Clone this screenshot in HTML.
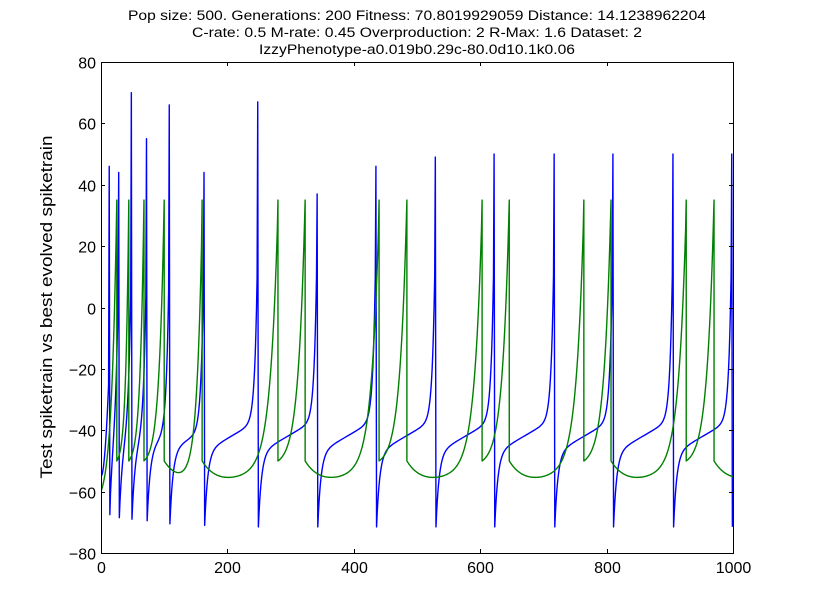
<!DOCTYPE html>
<html><head><meta charset="utf-8"><style>
html,body{margin:0;padding:0;background:#fff;}
svg{display:block;font-family:"Liberation Sans",sans-serif;}
</style></head><body>
<svg id="chart" width="815" height="615" viewBox="0 0 815 615">
<rect x="0" y="0" width="815" height="615" fill="#fff"/>
<g font-size="13.5" text-anchor="middle" fill="#000">
<text x="417" y="20" textLength="578" lengthAdjust="spacingAndGlyphs">Pop size: 500. Generations: 200 Fitness: 70.8019929059 Distance: 14.1238962204</text>
<text x="417" y="37" textLength="450" lengthAdjust="spacingAndGlyphs">C-rate: 0.5 M-rate: 0.45 Overproduction: 2 R-Max: 1.6 Dataset: 2</text>
<text x="417" y="54" textLength="316" lengthAdjust="spacingAndGlyphs">IzzyPhenotype-a0.019b0.29c-80.0d10.1k0.06</text>
</g>
<g id="plot"></g>
<g id="axes"></g>
<text x="52" y="307" font-size="17" text-anchor="middle" textLength="343" lengthAdjust="spacingAndGlyphs" transform="rotate(-90 52 307)">Test spiketrain vs best evolved spiketrain</text>
</svg>
<script>
const xTicks=[0,200,400,600,800,1000];
const yTicks=[-80,-60,-40,-20,0,20,40,60,80];
const blueSpikeTimes=[13,28,48,72,108,163,248,342,435,529,622,717,810,905,998];
const blueSpikePeaks=[46,44,70,55,66,44,67,37,46,49,50,50,50,50,50];
const blueResets=[-67.5,-68.5,-69,-69.5,-70.5,-71,-71.5,-71.5,-71.5,-71.5,-71.5,-71.5,-71.5,-71.5,-71.5];
const blueStart=-55;
const greenSpikeTimes=[25,44,68,100,160,280,323,440,484,603,646,764,807,926,970];
const greenSpikePeak=35;
const greenReset=-50;
const greenStart=-60;

const L=101,R=733,T=62,B=553;
const sx=v=>L+(v-0)/(1000-0)*(R-L);
const sy=v=>B-(v-(-80))/(160)*(B-T);
const NS="http://www.w3.org/2000/svg";
const plot=document.getElementById('plot');
const axes=document.getElementById('axes');

function bluePts(){
  const pts=[];
  let L0=blueSpikeTimes[0];
  for(let u=0;u<L0;u++){const f=u/L0;pts.push([u,blueStart+(-20-blueStart)*Math.pow(f,2)]);}
  for(let k=0;k<blueSpikeTimes.length;k++){
    const ts=blueSpikeTimes[k];
    pts.push([ts,blueSpikePeaks[k]]);
    const vmin=blueResets[k];
    pts.push([Math.min(ts+1,1000),vmin]);
    if(k+1<blueSpikeTimes.length){
      const tn=blueSpikeTimes[k+1];const Ln=tn-(ts+1);
      for(let u=1;u<Ln;u++){
        const v=vmin+24*(1-Math.exp(-u/5))+0.12*u+60*Math.exp((u-Ln)/4);
        pts.push([ts+1+u,Math.min(v,blueSpikePeaks[k+1])]);
      }
    }
  }
  return pts;
}
function greenPts(){
  const pts=[];
  const L0=greenSpikeTimes[0];
  for(let u=0;u<L0;u++){const tau=L0/3;pts.push([u,greenStart+(greenSpikePeak-greenStart)*(Math.exp(u/tau)-1)/(Math.exp(L0/tau)-1)]);}
  for(let k=0;k<greenSpikeTimes.length;k++){
    const ts=greenSpikeTimes[k];
    pts.push([ts,greenSpikePeak]);
    pts.push([ts,greenReset]);
    const tn=k+1<greenSpikeTimes.length?greenSpikeTimes[k+1]:null;
    const Ln=tn===null?1000-ts:tn-ts;
    const longGap=tn===null||Ln>50;
    for(let u=1;u<=Ln;u++){
      let v;
      if(longGap){
        const um=45;
        const dip=-5.5*(u/um)*Math.exp(1-u/um);
        const tau=Math.max(Ln/10,8);
        const rise=tn===null?0:(greenSpikePeak-greenReset)*(Math.exp(u/tau)-1)/(Math.exp(Ln/tau)-1);
        v=greenReset+dip+rise;
      }else{
        const tau=Ln/4;
        v=greenReset+(greenSpikePeak-greenReset)*(Math.exp(u/tau)-1)/(Math.exp(Ln/tau)-1);
      }
      if(tn!==null&&u===Ln)break;
      pts.push([ts+u,v]);
    }
  }
  return pts;
}
function drawLine(pts,color,name){
  const p=document.createElementNS(NS,'polyline');
  p.setAttribute('points',pts.map(d=>sx(d[0]).toFixed(2)+','+sy(d[1]).toFixed(2)).join(' '));
  p.setAttribute('fill','none');p.setAttribute('stroke',color);p.setAttribute('stroke-width','1.4');
  p.setAttribute('stroke-linejoin','round');
  
  
  plot.appendChild(p);
}
const cp=document.createElementNS(NS,'clipPath');cp.id='clip';
const cr=document.createElementNS(NS,'rect');cr.setAttribute('x',L);cr.setAttribute('y',T);cr.setAttribute('width',R-L);cr.setAttribute('height',B-T);
cp.appendChild(cr);document.getElementById('chart').appendChild(cp);
plot.setAttribute('clip-path','url(#clip)');
drawLine(bluePts(),'#0000ff','test-spiketrain-line');
drawLine(greenPts(),'#008000','evolved-spiketrain-line');

function ln(x1,y1,x2,y2,name){const l=document.createElementNS(NS,'line');
l.setAttribute('x1',x1);l.setAttribute('y1',y1);l.setAttribute('x2',x2);l.setAttribute('y2',y2);
l.setAttribute('stroke','#000');l.setAttribute('stroke-width','1');


axes.appendChild(l);}
function tx(x,y,s,anchor,name){const t=document.createElementNS(NS,'text');
t.setAttribute('x',x);t.setAttribute('y',y);t.setAttribute('font-size','16');t.setAttribute('text-anchor',anchor);t.textContent=s;


axes.appendChild(t);}
xTicks.forEach(v=>{const x=Math.round(sx(v))+0.5;ln(x,B,x,B-4,'x-tick');ln(x,T,x,T+4,'x-tick-top');tx(x,B+20,String(v),'middle','x-tick-label');});
yTicks.forEach(v=>{const y=Math.round(sy(v))+0.5;ln(L,y,L+4,y,'y-tick');ln(R,y,R-4,y,'y-tick-right');tx(L-5,y+6,String(v).replace('-','\u2212'),'end','y-tick-label');});
const fr=document.createElementNS(NS,'rect');
fr.setAttribute('x',L+0.5);fr.setAttribute('y',T+0.5);fr.setAttribute('width',R-L);fr.setAttribute('height',B-T);
fr.setAttribute('fill','none');fr.setAttribute('stroke','#000');fr.setAttribute('stroke-width','1');


axes.appendChild(fr);
</script>
</body></html>
